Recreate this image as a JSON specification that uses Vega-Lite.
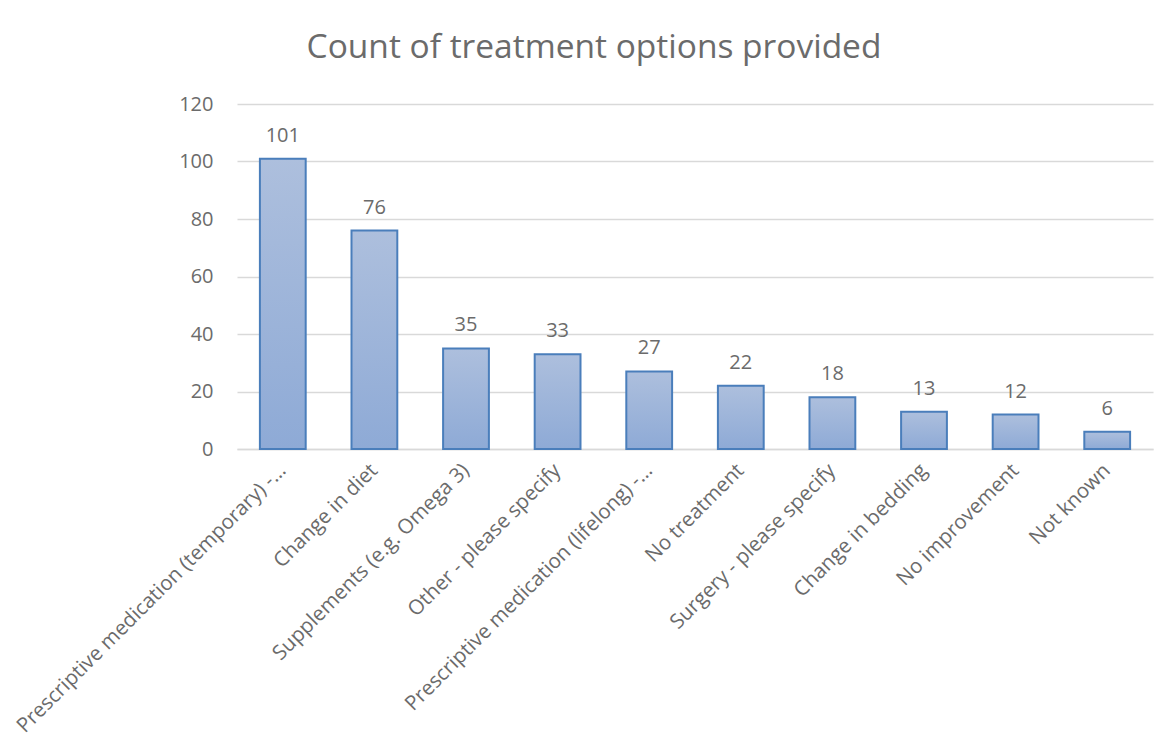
{
  "$schema": "https://vega.github.io/schema/vega-lite/v6.json",
  "autosize": "none",
  "width": 916,
  "height": 345,
  "padding": {"left": 237, "top": 104, "right": 23, "bottom": 306},
  "background": "white",
  "title": {
    "text": "Count of treatment options provided",
    "anchor": "middle",
    "dx": -101,
    "offset": 29,
    "font": "Open Sans",
    "fontSize": 33.5,
    "fontWeight": "normal",
    "color": "#6b6b6b"
  },
  "data": {
    "values": [
      {"option": "Prescriptive medication (temporary) -…", "count": 101},
      {"option": "Change in diet", "count": 76},
      {"option": "Supplements (e.g. Omega 3)", "count": 35},
      {"option": "Other - please specify", "count": 33},
      {"option": "Prescriptive medication (lifelong) -…", "count": 27},
      {"option": "No treatment", "count": 22},
      {"option": "Surgery - please specify", "count": 18},
      {"option": "Change in bedding", "count": 13},
      {"option": "No improvement", "count": 12},
      {"option": "Not known", "count": 6}
    ]
  },
  "encoding": {
    "x": {
      "field": "option",
      "type": "nominal",
      "sort": null,
      "title": null,
      "scale": {"paddingInner": 0.5, "paddingOuter": 0.25},
      "axis": {
        "labelAngle": -45,
        "labelAlign": "right",
        "labelBaseline": "middle",
        "labelPadding": 18,
        "labelFont": "Open Sans",
        "labelFontSize": 20.5,
        "labelColor": "#6b6b6b",
        "labelLimit": 600,
        "ticks": false,
        "domain": true,
        "domainColor": "#d9d9d9",
        "domainWidth": 1.5,
        "grid": false
      }
    },
    "y": {
      "field": "count",
      "type": "quantitative",
      "title": null,
      "scale": {"domain": [0, 120]},
      "axis": {
        "values": [0, 20, 40, 60, 80, 100, 120],
        "labelFont": "Open Sans",
        "labelFontSize": 20,
        "labelColor": "#6b6b6b",
        "labelPadding": 24,
        "ticks": false,
        "domain": false,
        "grid": true,
        "gridColor": "#d9d9d9",
        "gridWidth": 1.5
      }
    }
  },
  "layer": [
    {
      "mark": {
        "type": "bar",
        "stroke": "#4a7ebb",
        "strokeWidth": 2,
        "color": {
          "gradient": "linear",
          "x1": 0, "y1": 0, "x2": 0, "y2": 1,
          "stops": [
            {"offset": 0, "color": "#adbfdd"},
            {"offset": 1, "color": "#8eaad6"}
          ]
        }
      }
    },
    {
      "mark": {
        "type": "text",
        "baseline": "alphabetic",
        "dy": -17,
        "font": "Open Sans",
        "fontSize": 20,
        "color": "#6b6b6b"
      },
      "encoding": {"text": {"field": "count", "type": "quantitative"}}
    }
  ],
  "config": {"view": {"stroke": null}}
}
